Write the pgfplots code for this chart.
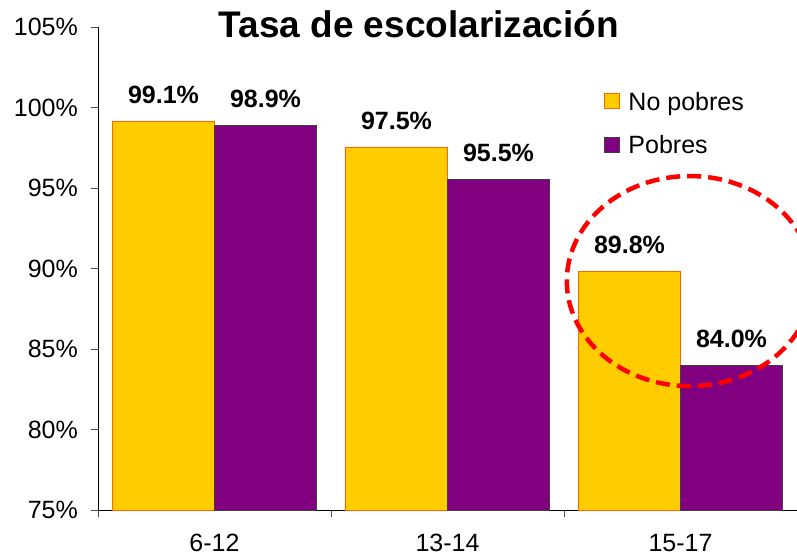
\documentclass[border=0pt]{standalone}
\usepackage{fontspec}
\setmainfont{Liberation Sans}
\usepackage{pgfplots}
\pgfplotsset{compat=1.18}
\definecolor{cyellow}{HTML}{FFCC00}
\definecolor{corange}{HTML}{FF6600}
\definecolor{cpurple}{HTML}{800080}
\definecolor{cgray}{HTML}{404040}
\begin{document}
\begin{tikzpicture}
\begin{axis}[
  scale only axis, width=699pt, height=483pt,
  xmin=-0.5, xmax=2.5, ymin=75, ymax=105,
  ybar=0pt, bar width=102pt,
  axis lines=left, axis line style={-, black, line width=0.9pt},
  /pgf/number format/assume math mode=true,
  tick label style={font=\fontsize{25}{30}\selectfont},
  xtick={-0.5,0.5,1.5,2.5}, xticklabels={},
  extra x ticks={0,1,2}, extra x tick labels={6-12,13-14,15-17},
  extra x tick style={major tick length=0pt, xticklabel style={anchor=base, inner sep=0pt, yshift=-41pt}},
  ytick={75,80,...,105},
  yticklabel={\pgfmathprintnumber{\tick}\%},
  yticklabel style={anchor=east, inner sep=0pt, xshift=-13pt},
  tick align=outside, major tick length=7pt,
  tick style={line width=0.9pt, black!70},
  nodes near coords={\pgfmathprintnumber[fixed,fixed zerofill,precision=1]{\pgfplotspointmeta}\%},
  nodes near coords style={font=\fontsize{25}{30}\selectfont\bfseries, anchor=base, inner sep=0pt, yshift=18pt},
  title={Tasa de escolarización},
  title style={at={(0.459,1)}, anchor=base, yshift=-16pt, font=\fontsize{37}{44}\selectfont\bfseries},
  legend style={draw=none, fill=none, at={(0.724,0.870)}, anchor=north west,
    font=\fontsize{25}{30}\selectfont, row sep=20pt, inner sep=0pt,
    /tikz/every odd column/.style={column sep=6pt}},
  legend cell align=left,
  legend image code/.code={\draw[#1, line width=1.2pt] (0pt,-7pt) rectangle (15pt,8pt);},
]
\addplot[fill=cyellow, draw=corange, line width=1pt] coordinates {(0,99.1) (1,97.5) (2,89.8)};
\addplot[fill=cpurple, draw=cgray, line width=1pt] coordinates {(0,98.9) (1,95.5) (2,84.0)};
\legend{No pobres, Pobres}
\draw[red, line width=4.5pt, dash pattern=on 14pt off 7pt] (axis cs:2.04,89.22) ellipse [x radius=123pt, y radius=105pt];
\end{axis}
\pgfresetboundingbox
\path (-98pt,-47pt) rectangle (699pt,510pt);
\end{tikzpicture}
\end{document}
